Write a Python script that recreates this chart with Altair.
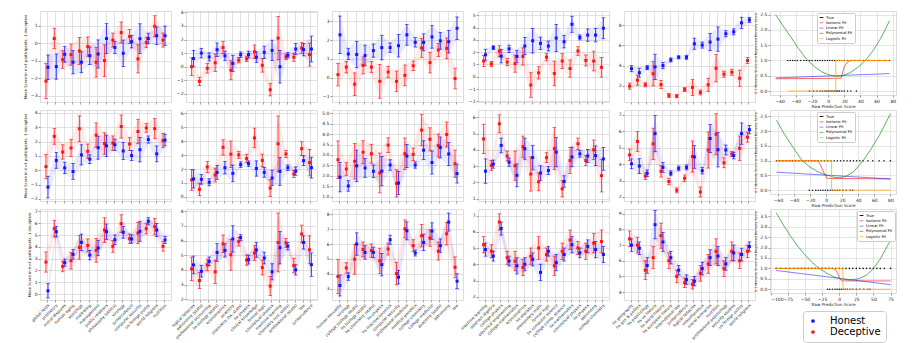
import json
import altair as alt
import pandas as pd

FONT = "DejaVu Sans"
BLUE = "#1414ff"
RED = "#ff1414"

# ---------------- category labels (one list per column) ----------------
CATS_C1 = ["global facts", "prehistory", "moral disputes", "human aging", "sociology",
           "marketing", "management", "public relations", "philosophy (ethics)", "virology",
           "jurisprudence", "computer security", "us foreign policy", "world religions", "nutrition"]
CATS_C2 = ["logical fallacies", "astronomy (stats)", "professional accounting", "hs biology (stats)",
           "econometrics", "anatomy", "chemistry (hs, stats)", "hs physics",
           "clinical knowledge", "formal logic", "conceptual physics", "machine learning",
           "chemistry (col, stats)", "professional (stats)", "law", "jurisprudence"]
CATS_C3 = ["human sexuality", "virology", "college biology (stats)", "hs biology (stats)",
           "hs chemistry (stats)", "hs physics", "hs macroeconomics", "computer security",
           "professional medicine", "medical genetics", "college chemistry",
           "college medicine", "anatomy (stats)", "astronomy", "law"]
CATS_C4 = ["machine learning", "abstract algebra", "college physics", "electrical engineering",
           "college mathematics", "econometrics", "hs statistics", "elementary math",
           "formal logic", "hs computer science", "college comp. science", "hs mathematics",
           "conceptual physics", "hs physics", "astronomy", "college chemistry"]
CATS_C5 = ["hs geography", "hs gov & politics", "hs psychology", "hs us history",
           "hs world history", "hs european history", "international law", "jurisprudence",
           "logical fallacies", "miscellaneous", "moral scenarios", "nutrition",
           "professional psychology", "security studies", "us foreign policy", "world religions"]

# ---------------- row 1 ----------------
R1C1_DEC = [-2.17, 0.26, -0.94, -0.66, -0.45, -0.20, -1.09, -1.00, 0.17, 0.60, 0.38, -0.90, 0.04, 0.96, 0.17]
R1C1_DEC_ERR = [1.00, 0.58, 0.50, 0.60, 0.77, 0.55, 0.85, 0.90, 0.40, 0.60, 0.40, 0.80, 0.30, 0.60, 0.40]
R1C1_HON = [-1.38, -1.34, -0.64, -1.09, -1.09, -0.72, -0.62, 0.26, -0.25, -0.58, 0.08, 0.25, 0.26, 0.42, 0.42]
R1C1_HON_ERR = [0.70, 0.72, 0.45, 0.66, 0.60, 0.50, 0.80, 0.85, 0.35, 0.75, 0.35, 0.85, 0.30, 0.50, 0.55]

R1C2_DEC = [0.00, -1.08, -0.12, 0.29, 1.41, -0.26, 0.48, 0.58, 1.10, 0.10, -1.70, 2.10, 0.72, 0.70, 1.37, 0.89]
R1C2_DEC_ERR = [0.65, 0.30, 0.35, 0.65, 0.45, 0.70, 0.20, 0.20, 0.50, 0.50, 0.45, 1.60, 0.20, 0.30, 0.40, 0.85]
R1C2_HON = [0.60, 1.00, 0.72, 1.25, 0.80, 0.24, 0.89, 0.89, 0.70, 1.06, 1.20, 0.00, 0.84, 1.30, 1.25, 1.30]
R1C2_HON_ERR = [0.60, 0.35, 0.30, 0.50, 0.35, 0.60, 0.20, 0.25, 0.40, 0.45, 0.75, 1.20, 0.20, 0.40, 0.45, 0.95]

R1C3_DEC = [0.16, 0.56, -0.35, 0.65, 0.56, -0.20, 0.30, -0.20, 0.12, 0.63, 1.58, 0.80, 1.47, 1.56, -0.05]
R1C3_DEC_ERR = [0.60, 0.30, 0.60, 0.45, 0.30, 0.90, 0.30, 0.55, 0.55, 0.25, 0.50, 0.55, 0.35, 0.55, 0.55]
R1C3_HON = [2.28, 1.26, 1.23, 1.18, 1.44, 1.60, 1.60, 1.70, 2.28, 1.88, 1.88, 2.17, 1.96, 1.91, 2.63]
R1C3_HON_ERR = [1.00, 0.30, 0.70, 0.55, 0.35, 0.65, 0.25, 0.60, 0.55, 0.25, 0.45, 0.60, 0.45, 0.60, 0.60]

R1C4_DEC = [1.28, 1.04, 2.08, 1.20, 1.07, 1.65, -0.67, 0.32, 1.60, 0.27, 1.28, 0.67, 2.10, 1.33, 1.28, 0.77]
R1C4_DEC_ERR = [0.45, 0.20, 0.45, 0.30, 0.70, 0.70, 1.00, 0.50, 0.30, 1.00, 0.60, 0.70, 0.35, 0.45, 0.80, 0.80]
R1C4_HON = [1.79, 2.37, 1.68, 2.27, 1.65, 2.50, 2.93, 2.72, 2.50, 3.15, 2.85, 4.27, 3.20, 3.39, 3.39, 3.95]
R1C4_HON_ERR = [0.45, 0.15, 0.55, 0.30, 0.50, 0.70, 1.00, 0.50, 0.40, 1.10, 0.50, 0.65, 0.20, 0.50, 0.55, 0.85]

R1C5_DEC = [1.97, 2.56, 2.10, 3.20, 2.13, 1.05, 0.98, 1.64, 1.84, 1.34, 2.10, 3.74, 3.15, 3.34, 2.75, 4.50]
R1C5_DEC_ERR = [0.30, 0.50, 0.20, 1.20, 0.40, 0.20, 0.15, 0.20, 0.80, 0.25, 0.65, 1.35, 0.30, 0.30, 0.80, 0.30]
R1C5_HON = [3.70, 3.30, 3.80, 3.87, 4.00, 4.56, 4.82, 4.82, 6.16, 6.03, 6.33, 6.62, 7.15, 7.34, 8.23, 8.52]
R1C5_HON_ERR = [0.30, 0.45, 0.20, 1.25, 0.30, 0.20, 0.15, 0.20, 0.55, 0.30, 0.85, 1.20, 0.30, 0.30, 0.55, 0.25]

# ---------------- row 2 ----------------
R2C1_DEC = [0.25, 2.36, 1.27, 1.55, 2.89, 1.32, 2.45, 1.86, 1.89, 3.05, 1.82, 2.70, 2.95, 2.90, 2.07]
R2C1_DEC_ERR = [0.85, 0.55, 0.50, 0.60, 0.90, 0.50, 0.85, 0.75, 0.50, 0.80, 0.45, 0.85, 0.30, 0.70, 0.50]
R2C1_HON = [-1.18, 0.68, 0.16, -0.09, 1.07, 0.77, 1.57, 1.70, 1.77, 1.34, 1.02, 1.43, 2.14, 1.14, 2.10]
R2C1_HON_ERR = [0.75, 0.55, 0.40, 0.55, 0.70, 0.30, 0.80, 0.75, 0.40, 0.60, 0.35, 0.85, 0.25, 0.55, 0.40]

R2C2_DEC = [1.22, 0.54, 2.15, 1.57, 3.56, 3.07, 3.02, 2.76, 4.24, 2.62, 0.63, 3.82, 3.09, 1.64, 3.47, 2.46]
R2C2_DEC_ERR = [0.75, 0.45, 0.40, 0.50, 0.55, 0.95, 0.25, 0.30, 0.70, 0.45, 0.60, 2.00, 0.25, 0.25, 0.50, 0.95]
R2C2_HON = [1.29, 1.26, 1.05, 1.76, 2.10, 1.69, 2.32, 2.39, 2.04, 1.76, 1.36, 1.83, 2.10, 1.85, 2.60, 2.10]
R2C2_HON_ERR = [0.65, 0.35, 0.25, 0.50, 0.45, 0.60, 0.20, 0.20, 0.55, 0.35, 0.55, 1.00, 0.20, 0.30, 0.35, 0.75]

R2C3_DEC = [2.77, 2.33, 2.70, 3.13, 3.06, 2.14, 3.47, 1.64, 3.06, 3.03, 4.19, 3.75, 3.45, 3.98, 2.58]
R2C3_DEC_ERR = [0.90, 0.30, 0.85, 0.55, 0.45, 0.95, 0.35, 0.65, 0.75, 0.30, 0.75, 0.55, 0.55, 0.60, 0.65]
R2C3_HON = [1.94, 1.52, 2.48, 2.38, 2.22, 2.23, 2.52, 1.66, 2.95, 2.52, 3.23, 2.64, 3.36, 3.05, 2.11]
R2C3_HON_ERR = [0.70, 0.25, 0.75, 0.45, 0.30, 0.70, 0.25, 0.55, 0.55, 0.15, 0.45, 0.55, 0.50, 0.55, 0.45]

R2C4_DEC = [4.67, 3.04, 5.60, 3.62, 3.02, 4.19, 2.51, 2.03, 3.52, 4.08, 1.60, 3.34, 4.37, 3.34, 4.00, 2.41]
R2C4_DEC_ERR = [0.90, 0.30, 0.55, 0.30, 0.90, 0.65, 1.05, 0.55, 0.30, 1.30, 0.50, 0.80, 0.35, 0.30, 0.60, 1.00]
R2C4_HON = [2.69, 3.12, 4.27, 3.24, 2.43, 4.07, 3.52, 2.57, 2.73, 3.86, 2.05, 3.56, 3.75, 3.62, 3.64, 3.44]
R2C4_HON_ERR = [0.75, 0.25, 0.45, 0.25, 0.70, 0.65, 0.75, 0.45, 0.25, 0.90, 0.35, 0.60, 0.20, 0.40, 0.60, 0.70]

R2C5_DEC = [4.56, 5.38, 3.26, 5.24, 3.56, 2.94, 2.40, 3.14, 4.46, 2.30, 4.86, 5.82, 4.08, 4.62, 4.96, 5.64]
R2C5_DEC_ERR = [0.35, 0.60, 0.20, 0.95, 0.35, 0.20, 0.15, 0.20, 0.95, 0.30, 1.10, 1.25, 0.30, 0.15, 0.75, 0.30]
R2C5_HON = [4.02, 3.88, 3.44, 5.86, 3.80, 3.44, 3.74, 3.80, 4.44, 3.60, 5.56, 4.88, 4.86, 4.52, 5.86, 6.10]
R2C5_HON_ERR = [0.30, 0.45, 0.20, 1.10, 0.30, 0.15, 0.15, 0.15, 0.70, 0.20, 0.85, 1.05, 0.30, 0.20, 0.65, 0.25]

# ---------------- row 3 ----------------
R3C1_DEC = [2.71, 5.54, 2.34, 2.82, 3.95, 4.12, 3.70, 5.42, 4.04, 5.96, 4.69, 5.17, 5.54, 5.71, 4.04]
R3C1_DEC_ERR = [0.85, 0.70, 0.45, 0.70, 1.00, 0.55, 1.00, 1.05, 0.50, 0.75, 0.40, 0.90, 0.45, 0.70, 0.40]
R3C1_HON = [0.28, 5.28, 2.66, 3.36, 4.38, 3.30, 3.90, 5.28, 4.60, 5.23, 4.66, 5.31, 6.16, 5.42, 4.58]
R3C1_HON_ERR = [0.60, 0.45, 0.30, 0.40, 0.70, 0.40, 0.65, 0.65, 0.40, 0.50, 0.35, 0.85, 0.30, 0.55, 0.30]

R3C2_DEC = [4.07, 3.28, 4.34, 3.87, 5.78, 5.03, 5.93, 4.67, 5.15, 4.16, 2.90, 5.87, 5.84, 4.29, 6.45, 5.37]
R3C2_DEC_ERR = [0.80, 0.55, 0.40, 0.80, 0.60, 1.05, 0.30, 0.35, 0.50, 0.50, 0.65, 2.00, 0.30, 0.50, 0.60, 0.95]
R3C2_HON = [4.34, 3.91, 4.58, 5.19, 5.33, 6.11, 6.20, 4.70, 5.36, 4.81, 3.87, 5.51, 5.62, 4.00, 5.87, 4.36]
R3C2_HON_ERR = [0.60, 0.40, 0.30, 0.60, 0.45, 0.90, 0.20, 0.30, 0.50, 0.40, 0.55, 1.10, 0.25, 0.35, 0.45, 0.80]

R3C3_DEC = [3.82, 4.40, 4.98, 5.64, 5.56, 4.87, 5.67, 4.02, 7.02, 5.89, 6.56, 6.40, 5.53, 6.69, 4.44]
R3C3_DEC_ERR = [1.15, 0.35, 1.00, 0.50, 0.45, 0.85, 0.40, 0.75, 0.60, 0.40, 0.75, 0.55, 0.60, 0.75, 0.70]
R3C3_HON = [3.22, 3.82, 6.00, 5.44, 5.44, 4.62, 6.29, 3.78, 6.89, 5.40, 6.11, 6.87, 5.89, 7.47, 3.51]
R3C3_HON_ERR = [0.70, 0.25, 0.75, 0.45, 0.35, 0.75, 0.30, 0.45, 0.60, 0.20, 0.55, 0.55, 0.45, 0.60, 0.50]

R3C4_DEC = [5.2, 4.8, 6.6, 4.4, 4.2, 3.8, 4.5, 5.0, 4.6, 3.9, 4.8, 5.5, 5.0, 4.8, 5.3, 5.4]
R3C4_DEC_ERR = [0.5, 0.4, 0.5, 0.4, 0.6, 0.5, 0.5, 0.7, 0.4, 0.6, 0.5, 0.6, 0.4, 0.5, 0.6, 0.7]
R3C4_HON = [4.9, 4.5, 6.2, 4.2, 3.9, 4.0, 4.3, 3.5, 4.8, 4.1, 4.6, 5.2, 4.7, 5.1, 4.9, 4.6]
R3C4_HON_ERR = [0.4, 0.3, 0.4, 0.3, 0.5, 0.4, 0.4, 0.5, 0.3, 0.5, 0.4, 0.5, 0.3, 0.4, 0.5, 0.5]

R3C5_DEC = [7.4, 7.0, 5.4, 6.2, 7.6, 6.0, 5.0, 4.6, 4.5, 5.2, 5.8, 6.6, 5.5, 6.6, 6.0, 6.6]
R3C5_DEC_ERR = [0.5, 0.5, 0.6, 0.7, 0.8, 0.5, 0.4, 0.3, 0.3, 0.5, 0.6, 0.8, 0.5, 0.6, 0.5, 0.4]
R3C5_HON = [7.0, 6.8, 5.7, 8.3, 7.2, 6.2, 5.4, 4.8, 4.7, 5.5, 6.2, 6.3, 5.8, 6.5, 6.4, 6.9]
R3C5_HON_ERR = [0.4, 0.4, 0.5, 0.9, 0.6, 0.4, 0.3, 0.3, 0.3, 0.4, 0.5, 0.6, 0.4, 0.5, 0.4, 0.3]

# ---------------- fit panels (column 6) ----------------
FITS = ["True", "Isotonic Fit", "Linear Fit", "Polynomial Fit", "Logistic Fit"]
FIT_COLORS = ["#000000", "rgba(255,0,0,0.6)", "rgba(0,0,255,0.5)", "rgba(0,140,0,0.65)", "rgba(255,165,0,0.75)"]

R1_POLY_X = [-65, -56, -47, -37, -27, -17, -8, 1, 10, 18, 27, 36, 46, 55, 65, 76]
R1_POLY_Y = [2.50, 2.14, 1.80, 1.40, 1.05, 0.80, 0.63, 0.53, 0.48, 0.50, 0.60, 0.76, 1.00, 1.30, 1.72, 2.30]
R1_ISO_X = [-65, 16, 18, 20, 23, 27, 76]
R1_ISO_Y = [0.40, 0.42, 0.60, 0.80, 0.92, 1.00, 1.00]
R1_LIN_X = [-65, 76]
R1_LIN_Y = [0.43, 0.57]
R1_LOG_X = [-50, 9.5, 9.5, 76]
R1_LOG_Y = [0, 0, 1, 1]
R1_TRUE_POS = [-50, -47, -44, -41, -38, -34, -30, -27, -23, -20, -16, -13, -10, -7, -4, -1, 2, 5, 8,
               11, 14, 17, 20, 24, 28, 33, 38, 44, 50, 57, 64, 70, 76]
R1_TRUE_NEG = [-23, -18, -14, -10, -7, -4, -2, 0, 2, 4, 6, 8, 10, 12, 14, 17, 20, 24, 28, 35]

R2_POLY_X = [-62, -52, -42, -30, -20, -10, 0, 8, 15, 24, 34, 46, 56, 66, 80]
R2_POLY_Y = [2.37, 1.90, 1.48, 1.00, 0.78, 0.62, 0.52, 0.45, 0.42, 0.46, 0.62, 1.00, 1.40, 1.85, 2.59]
R2_ISO_X = [-62, -10, -8, -5, -2, 1, 80]
R2_ISO_Y = [1.00, 1.00, 0.90, 0.72, 0.55, 0.40, 0.38]
R2_LIN_X = [-62, 80]
R2_LIN_Y = [0.61, 0.38]
R2_LOG_X = [-62, 6.8, 6.8, 80]
R2_LOG_Y = [1, 1, 0, 0]
R2_TRUE_POS = [-62, -58, -54, -50, -46, -42, -38, -34, -30, -26, -22, -18, -14, -10, -6, -2, 2, 6,
               10, 14, 18, 22, 26, 30, 34, 38, 42, 46, 52, 58, 66, 72, 80]
R2_TRUE_NEG = [-21, -17, -13, -10, -7, -4, -1, 2, 5, 8, 11, 14, 17, 21, 25, 30, 33]

R3_POLY_X = [-92, -80, -70, -60, -50, -40, -29, -18, -8, 2, 15, 28, 40, 50, 60, 75]
R3_POLY_Y = [3.67, 3.00, 2.50, 2.05, 1.65, 1.30, 1.00, 0.77, 0.60, 0.50, 0.44, 0.50, 0.68, 1.00, 1.45, 2.35]
R3_ISO_X = [-92, -9, -5, -2, 1, 4, 75]
R3_ISO_Y = [1.00, 1.00, 0.93, 0.75, 0.50, 0.40, 0.40]
R3_LIN_X = [-92, 75]
R3_LIN_Y = [0.90, 0.22]
R3_LOG_X = [-92, 5.6, 5.6, 75]
R3_LOG_Y = [1, 1, 0, 0]
R3_TRUE_POS = [-92, -85, -78, -72, -66, -60, -55, -50, -45, -40, -35, -30, -25, -20, -15, -10, -5,
               0, 5, 10, 15, 20, 25, 30, 35, 40, 45, 50, 55, 60, 66, 75]
R3_TRUE_NEG = [-17, -14, -10, -6, -3, 0, 3, 6, 9, 12, 16, 20, 25, 30, 36, 42, 45]

Y_TITLE = "Mean Score in n=4 participants, 1 deceptive"
FIT_Y_TITLE = "0-1 Honesty Score and Regressed Honesty Score"

W, H = 131, 91
FW, FH = 126, 84
TICK_FS = 4.5
XLAB_FS = 4.0


def series_frame(vals, errs, off):
    return pd.DataFrame({
        "x": [i + off for i in range(len(vals))],
        "m": vals,
        "lo": [v - e for v, e in zip(vals, errs)],
        "hi": [v + e for v, e in zip(vals, errs)],
    })


def err_panel(cats, hon, hon_err, dec, dec_err, ydom, yticks, yfmt="d", bottom=False, ytitle=None):
    n = len(cats)
    xs = alt.Scale(domain=[-0.83, n - 1 + 0.83], nice=False, zero=False)
    ys = alt.Scale(domain=ydom, nice=False, zero=False)
    xkw = dict(values=list(range(n)), grid=True, gridColor="#d4d4d4", gridWidth=0.7,
               domain=False, tickSize=2, tickColor="#555555", tickWidth=0.6, title=None)
    if bottom:
        xkw.update(labels=True, labelExpr=json.dumps(cats) + "[datum.value]", labelAngle=-45,
                   labelAlign="right", labelBaseline="top", labelFontSize=XLAB_FS, labelFont=FONT,
                   labelPadding=1, labelOverlap=False, labelColor="#222222", labelBound=False,
                   labelFlush=False)
    else:
        xkw.update(labels=False)
    ykw = dict(values=yticks, format=yfmt, grid=True, gridColor="#d4d4d4", gridWidth=0.7,
               domain=False, tickSize=2, tickColor="#555555", tickWidth=0.6, labelFontSize=TICK_FS,
               labelFont=FONT, labelPadding=1, labelColor="#222222", labelFlush=False)
    if ytitle:
        ykw.update(title=ytitle, titleFontSize=3.8, titleFont=FONT, titleFontWeight="normal",
                   titlePadding=3, titleColor="#222222")
    else:
        ykw.update(title=None)
    xenc = alt.X("x:Q", scale=xs, axis=alt.Axis(**xkw))

    def Y(field):
        return alt.Y(field + ":Q", scale=ys, axis=alt.Axis(**ykw))

    layers = []
    frames = [(series_frame(dec, dec_err, -0.12), RED), (series_frame(hon, hon_err, 0.12), BLUE)]
    for df, col in frames:
        layers.append(alt.Chart(df).mark_area(color=col, opacity=0.09).encode(
            x=xenc, y=Y("lo"), y2="hi:Q"))
    for df, col in frames:
        layers.append(alt.Chart(df).mark_rule(color=col, opacity=0.75, strokeWidth=1.1).encode(
            x=xenc, y=Y("lo"), y2="hi:Q"))
        for f in ["lo", "hi"]:
            layers.append(alt.Chart(df).mark_tick(color=col, opacity=0.75, orient="horizontal",
                                                  size=3.6, thickness=0.9).encode(x=xenc, y=Y(f)))
    for df, col in frames:
        layers.append(alt.Chart(df).mark_square(color=col, size=9, opacity=1).encode(
            x=xenc, y=Y("m")))
    return alt.layer(*layers).properties(width=W, height=H)


def fit_panel(poly, iso, lin, logi, pos, neg, xdom, xticks, ydom, yticks, leg_x, extra=False):
    rows = []
    for name, (xs_, ys_) in [("Isotonic Fit", iso), ("Linear Fit", lin),
                             ("Polynomial Fit", poly), ("Logistic Fit", logi)]:
        for k, (a, b) in enumerate(zip(xs_, ys_)):
            rows.append({"x": a, "y": b, "fit": name, "k": k})
    lines_df = pd.DataFrame(rows)
    true_df = pd.DataFrame({"x": pos + neg, "y": [1] * len(pos) + [0] * len(neg), "fit": "True"})

    xs = alt.Scale(domain=xdom, nice=False, zero=False)
    ys = alt.Scale(domain=ydom, nice=False, zero=False)
    xax = alt.Axis(values=xticks, format="d", grid=True, gridColor="#d4d4d4", gridWidth=0.6,
                   domain=False, tickSize=2, tickColor="#555555", tickWidth=0.6,
                   labelFontSize=TICK_FS, labelFont=FONT, labelPadding=1, labelColor="#222222",
                   title="Raw Prediction Score", titleFontSize=4.2, titleFont=FONT,
                   titleFontWeight="normal", titlePadding=2, titleColor="#222222")
    yax = alt.Axis(values=yticks, format=".1f", grid=True, gridColor="#d4d4d4", gridWidth=0.6,
                   domain=False, tickSize=2, tickColor="#555555", tickWidth=0.6,
                   labelFontSize=TICK_FS, labelFont=FONT, labelPadding=1, labelColor="#222222",
                   title=FIT_Y_TITLE, titleFontSize=3.3, titleFont=FONT, titleFontWeight="normal",
                   titlePadding=2, titleColor="#222222")
    cscale = alt.Scale(domain=FITS, range=FIT_COLORS)
    legend = alt.Legend(orient="none", legendX=leg_x, legendY=2, title=None, labelFontSize=3.8,
                        labelFont=FONT, symbolSize=14, symbolStrokeWidth=1, rowPadding=0.3,
                        padding=2, strokeColor="#cccccc", fillColor="white", cornerRadius=1,
                        symbolType="stroke", labelLimit=80, symbolOffset=0, labelOffset=2)
    pts = alt.Chart(true_df).mark_circle(size=2.5, opacity=0.9).encode(
        x=alt.X("x:Q", scale=xs, axis=xax), y=alt.Y("y:Q", scale=ys, axis=yax),
        color=alt.Color("fit:N", scale=cscale, legend=legend))
    lines = alt.Chart(lines_df).mark_line(strokeWidth=1).encode(
        x=alt.X("x:Q", scale=xs, axis=xax), y=alt.Y("y:Q", scale=ys, axis=yax),
        color=alt.Color("fit:N", scale=cscale, legend=legend), order="k:Q")
    layers = [pts, lines]
    if extra:
        grp = pd.DataFrame({"x": [xdom[0] - 1000, xdom[0] - 1000], "y": [0, 0],
                            "grp": ["Honest", "Deceptive"]})
        layers.append(alt.Chart(grp).mark_circle(size=10, clip=True).encode(
            x=alt.X("x:Q", scale=xs, axis=xax), y=alt.Y("y:Q", scale=ys, axis=yax),
            fill=alt.Fill("grp:N", scale=alt.Scale(domain=["Honest", "Deceptive"], range=[BLUE, RED]),
                          legend=alt.Legend(orient="none", legendX=33, legendY=102, title=None,
                                            labelFontSize=10, labelFont=FONT, symbolSize=14,
                                            symbolType="circle", symbolOpacity=1,
                                            strokeColor="#cccccc", fillColor="white",
                                            cornerRadius=3, padding=5, rowPadding=1,
                                            labelOffset=12, symbolStrokeWidth=0))))
    return alt.layer(*layers).properties(width=FW, height=FH)


panels = [
    err_panel(CATS_C1, R1C1_HON, R1C1_HON_ERR, R1C1_DEC, R1C1_DEC_ERR, [-3.36, 1.83], [-3, -2, -1, 0, 1], ytitle=Y_TITLE),
    err_panel(CATS_C2, R1C2_HON, R1C2_HON_ERR, R1C2_DEC, R1C2_DEC_ERR, [-2.6, 4.1], [-2, -1, 0, 1, 2, 3, 4]),
    err_panel(CATS_C3, R1C3_HON, R1C3_HON_ERR, R1C3_DEC, R1C3_DEC_ERR, [-1.3, 3.55], [-1, 0, 1, 2, 3]),
    err_panel(CATS_C4, R1C4_HON, R1C4_HON_ERR, R1C4_DEC, R1C4_DEC_ERR, [-2.05, 5.35], [-2, -1, 0, 1, 2, 3, 4, 5]),
    err_panel(CATS_C5, R1C5_HON, R1C5_HON_ERR, R1C5_DEC, R1C5_DEC_ERR, [0.4, 9.4], [2, 4, 6, 8]),
    fit_panel((R1_POLY_X, R1_POLY_Y), (R1_ISO_X, R1_ISO_Y), (R1_LIN_X, R1_LIN_Y), (R1_LOG_X, R1_LOG_Y),
              R1_TRUE_POS, R1_TRUE_NEG, [-72, 84], [-60, -40, -20, 0, 20, 40, 60, 80],
              [-0.13, 2.62], [0.0, 0.5, 1.0, 1.5, 2.0, 2.5], 47),

    err_panel(CATS_C1, R2C1_HON, R2C1_HON_ERR, R2C1_DEC, R2C1_DEC_ERR, [-2.15, 4.2], [-2, -1, 0, 1, 2, 3, 4], ytitle=Y_TITLE),
    err_panel(CATS_C2, R2C2_HON, R2C2_HON_ERR, R2C2_DEC, R2C2_DEC_ERR, [-0.3, 6.25], [0, 1, 2, 3, 4, 5, 6]),
    err_panel(CATS_C3, R2C3_HON, R2C3_HON_ERR, R2C3_DEC, R2C3_DEC_ERR, [0.8, 5.15], [1.0, 1.5, 2.0, 2.5, 3.0, 3.5, 4.0, 4.5, 5.0], yfmt=".1f"),
    err_panel(CATS_C4, R2C4_HON, R2C4_HON_ERR, R2C4_DEC, R2C4_DEC_ERR, [0.85, 6.45], [1, 2, 3, 4, 5, 6]),
    err_panel(CATS_C5, R2C5_HON, R2C5_HON_ERR, R2C5_DEC, R2C5_DEC_ERR, [1.75, 7.3], [2, 3, 4, 5, 6, 7]),
    fit_panel((R2_POLY_X, R2_POLY_Y), (R2_ISO_X, R2_ISO_Y), (R2_LIN_X, R2_LIN_Y), (R2_LOG_X, R2_LOG_Y),
              R2_TRUE_POS, R2_TRUE_NEG, [-70, 87], [-60, -40, -20, 0, 20, 40, 60, 80],
              [-0.13, 2.72], [0.0, 0.5, 1.0, 1.5, 2.0, 2.5], 47),

    err_panel(CATS_C1, R3C1_HON, R3C1_HON_ERR, R3C1_DEC, R3C1_DEC_ERR, [-0.5, 7.2], [0, 1, 2, 3, 4, 5, 6, 7], bottom=True, ytitle=Y_TITLE),
    err_panel(CATS_C2, R3C2_HON, R3C2_HON_ERR, R3C2_DEC, R3C2_DEC_ERR, [1.95, 8.15], [2, 3, 4, 5, 6, 7, 8], bottom=True),
    err_panel(CATS_C3, R3C3_HON, R3C3_HON_ERR, R3C3_DEC, R3C3_DEC_ERR, [2.25, 8.35], [3, 4, 5, 6, 7, 8], bottom=True),
    err_panel(CATS_C4, R3C4_HON, R3C4_HON_ERR, R3C4_DEC, R3C4_DEC_ERR, [1.8, 7.4], [2, 3, 4, 5, 6, 7], bottom=True),
    err_panel(CATS_C5, R3C5_HON, R3C5_HON_ERR, R3C5_DEC, R3C5_DEC_ERR, [3.5, 9.3], [4, 5, 6, 7, 8, 9], bottom=True),
    fit_panel((R3_POLY_X, R3_POLY_Y), (R3_ISO_X, R3_ISO_Y), (R3_LIN_X, R3_LIN_Y), (R3_LOG_X, R3_LOG_Y),
              R3_TRUE_POS, R3_TRUE_NEG, [-101, 83], [-100, -75, -50, -25, 0, 25, 50, 75],
              [-0.18, 3.85], [0.0, 0.5, 1.0, 1.5, 2.0, 2.5, 3.0, 3.5], 87, extra=True),
]

chart = alt.concat(*panels, columns=6, spacing={"row": 8, "column": 15}, bounds="flush").resolve_scale(
    color="independent", fill="independent"
).resolve_legend(color="independent", fill="independent").properties(
    padding={"left": 14, "top": 0, "right": 2, "bottom": 0}
).configure_view(stroke="#8c8c8c", strokeWidth=1).configure(background="white", font=FONT)

chart.save("out.html", embed_options={"renderer": "svg", "actions": False})
